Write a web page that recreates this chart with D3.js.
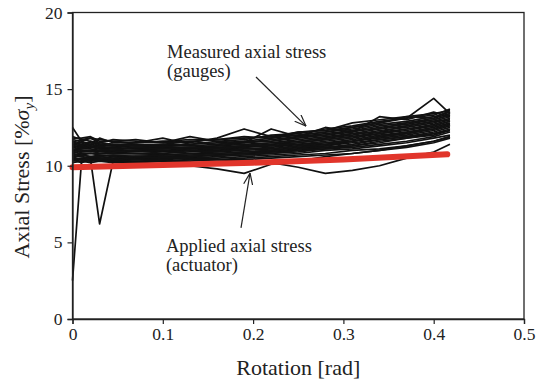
<!DOCTYPE html>
<html>
<head>
<meta charset="utf-8">
<script src="https://cdn.jsdelivr.net/npm/d3@7"></script>
<style>
body { margin: 0; background: #fff; }
text { font-family: "Liberation Serif", "Times New Roman", serif; fill: #222; }
</style>
</head>
<body>
<script>
// rotation samples shared by every gauge trace
var rotation = [0, 0.01, 0.02, 0.03, 0.045, 0.07, 0.10, 0.13, 0.16, 0.19, 0.22, 0.25, 0.28, 0.31, 0.34, 0.37, 0.40, 0.418];

// measured axial stress from the gauges [% sigma_y]
var gauges = [
	[10.2,10.3,10.2,10.3,10.2,10.2,10.3,10.3,10.4,10.4,10.5,10.6,10.7,10.8,11.0,11.2,11.5,11.8],
	[10.3,10.4,10.3,10.4,10.3,10.3,10.3,10.4,10.4,10.5,10.6,10.7,10.8,11.0,11.1,11.3,11.6,11.9],
	[10.4,10.5,10.4,10.4,10.4,10.4,10.4,10.5,10.5,10.6,10.7,10.8,11.0,11.1,11.3,11.5,11.8,12.0],
	[10.5,10.4,10.5,10.5,10.4,10.5,10.5,10.5,10.6,10.7,10.8,10.9,11.1,11.2,11.4,11.6,11.9,12.2],
	[10.6,10.6,10.5,10.6,10.5,10.5,10.6,10.6,10.7,10.8,10.9,11.0,11.2,11.3,11.5,11.8,12.1,12.3],
	[10.7,10.7,10.6,10.7,10.6,10.6,10.6,10.7,10.7,10.8,10.9,11.1,11.3,11.5,11.7,11.9,12.2,12.5],
	[10.8,10.7,10.8,10.7,10.7,10.7,10.7,10.8,10.8,10.9,11.0,11.2,11.3,11.6,11.8,12.0,12.3,12.6],
	[10.9,10.8,10.8,10.8,10.8,10.8,10.7,10.8,10.9,11.0,11.1,11.3,11.4,11.6,11.9,12.1,12.4,12.7],
	[11.0,10.9,10.9,10.9,10.9,10.8,10.8,10.9,11.0,11.1,11.2,11.4,11.5,11.7,12.0,12.2,12.5,12.8],
	[11.1,11.0,11.0,11.0,10.9,10.9,10.9,11.0,11.0,11.2,11.3,11.4,11.6,11.8,12.1,12.3,12.6,12.9],
	[11.2,11.1,11.1,11.0,11.0,11.0,11.0,11.0,11.1,11.2,11.4,11.5,11.7,11.9,12.2,12.4,12.7,13.0],
	[11.3,11.2,11.2,11.1,11.1,11.1,11.0,11.1,11.2,11.3,11.4,11.6,11.8,12.0,12.3,12.5,12.8,13.1],
	[11.4,11.3,11.3,11.2,11.2,11.1,11.1,11.2,11.3,11.4,11.5,11.7,11.9,12.1,12.4,12.6,12.9,13.2],
	[11.5,11.4,11.4,11.3,11.3,11.2,11.2,11.2,11.3,11.5,11.6,11.8,12.0,12.2,12.5,12.7,13.0,13.3],
	[11.6,11.5,11.5,11.4,11.3,11.3,11.3,11.3,11.4,11.5,11.7,11.9,12.1,12.3,12.6,12.8,13.1,13.4],
	[11.7,11.6,11.8,11.5,11.4,11.4,11.4,11.4,11.5,11.6,11.8,12.0,12.2,12.4,12.7,12.9,13.2,13.5],
	[11.8,11.8,11.9,11.6,11.6,11.7,11.5,11.9,11.6,11.7,12.0,12.1,12.4,12.6,12.9,13.1,13.3,13.7],
	[12.5,11.6,11.4,11.8,11.5,11.5,11.6,11.5,11.8,12.4,11.9,12.2,12.3,12.8,13.0,13.2,13.4,13.6],
	[11.2,11.7,11.6,11.4,11.3,11.5,11.8,11.4,11.6,11.5,12.4,11.9,12.5,12.2,13.2,13.0,13.5,13.2],
	[10.4,10.2,10.4,10.3,10.3,10.2,10.3,10.0,9.8,9.5,10.1,10.3,10.6,10.8,11.0,11.3,11.6,11.9],
	[10.5,10.4,10.3,10.4,10.3,10.4,10.3,10.4,10.4,10.3,10.2,9.9,9.5,9.7,10.0,10.5,10.9,11.4],
	[2.5,10.3,10.6,10.5,10.5,10.6,10.6,10.6,10.7,10.8,10.9,11.1,11.2,11.4,11.7,11.9,12.1,12.4],
	[10.8,10.6,10.4,6.2,10.3,10.6,10.7,10.7,10.8,10.9,11.0,11.2,11.4,11.6,11.9,12.1,12.4,12.7],
	[11.9,11.7,11.8,11.7,11.6,11.5,11.6,11.7,11.7,11.8,11.9,12.0,12.2,12.5,12.8,13.1,14.4,13.4],
	[11.0,11.3,11.2,11.3,11.1,11.2,11.3,11.1,11.2,11.3,11.5,11.6,11.8,12.1,12.2,12.6,12.9,13.0],
	[10.6,10.9,11.0,10.8,10.9,11.0,10.8,11.0,10.9,11.1,11.1,11.3,11.5,11.6,11.9,12.2,12.4,12.7],
	[10.9,11.1,11.3,11.1,11.0,11.2,11.1,11.2,11.1,11.3,11.3,11.5,11.7,11.9,12.1,12.4,12.6,12.9],
	[11.4,11.5,11.2,11.5,11.4,11.3,11.4,11.6,11.4,11.6,11.6,11.9,12.0,12.3,12.4,12.8,13.0,13.3],
	[10.5,10.7,10.6,10.6,10.7,10.6,10.5,10.6,10.7,10.7,10.8,11.0,11.1,11.3,11.6,11.8,12.0,12.3],
	[11.6,11.3,11.6,11.5,11.7,11.6,11.5,11.6,11.7,11.9,11.8,12.2,12.3,12.5,12.8,13.2,13.1,13.6]
];

// applied axial stress from the actuator
var appliedRotation = [0, 0.1, 0.2, 0.3, 0.415];
var appliedStress = [9.9, 10.05, 10.2, 10.4, 10.75];

// axis ticks
var xTicks = [0, 0.1, 0.2, 0.3, 0.4, 0.5];
var yTicks = [0, 5, 10, 15, 20];

var margin = {top: 12.5, right: 16, bottom: 63, left: 72.5};
var width = 540 - margin.left - margin.right;
var height = 382 - margin.top - margin.bottom;

var svg = d3.select("body").append("svg")
	.attr("width", 540)
	.attr("height", 382);

var g = svg.append("g")
	.attr("transform", "translate(" + margin.left + "," + margin.top + ")");

var x = d3.scaleLinear().domain([0, 0.5]).range([0, width]);
var y = d3.scaleLinear().domain([0, 20]).range([height, 0]);

var line = d3.line()
	.x(function (d) { return x(d[0]); })
	.y(function (d) { return y(d[1]); });

//tracce dei gauges
g.selectAll("path.gauge")
	.data(gauges)
	.enter()
	.append("path")
	.attr("class", "gauge")
	.attr("d", function (d) {
		return line(d.map(function (v, i) { return [rotation[i], v]; }));
	})
	.attr("fill", "none")
	.attr("stroke", "#111")
	.attr("stroke-width", 1.7)
	.attr("stroke-linejoin", "round");

//linea rossa dell'attuatore
g.append("path")
	.attr("d", line(appliedRotation.map(function (r, i) { return [r, appliedStress[i]]; })))
	.attr("fill", "none")
	.attr("stroke", "#e1352b")
	.attr("stroke-width", 6)
	.attr("stroke-linecap", "round");

//cornice
g.append("rect")
	.attr("width", width)
	.attr("height", height)
	.attr("fill", "none")
	.attr("stroke", "#222")
	.attr("stroke-width", 1.3);

//assi
var xAxis = g.append("g")
	.attr("transform", "translate(0," + height + ")")
	.call(d3.axisBottom(x).tickValues(xTicks).tickFormat(d3.format("")).tickSize(5).tickPadding(4));

var yAxis = g.append("g")
	.call(d3.axisLeft(y).tickValues(yTicks).tickSize(5).tickPadding(5));

[xAxis, yAxis].forEach(function (a) {
	a.select(".domain").attr("stroke", "#222").attr("stroke-width", 1.3);
	a.selectAll(".tick line").attr("stroke", "#222").attr("stroke-width", 1.2);
	a.selectAll("text")
		.attr("font-family", "Liberation Serif, serif")
		.attr("font-size", 17.5)
		.attr("fill", "#222");
});

//titoli degli assi
svg.append("text")
	.attr("x", margin.left + width / 2)
	.attr("y", 375)
	.attr("text-anchor", "middle")
	.attr("font-size", 22)
	.text("Rotation [rad]");

var yTitle = svg.append("text")
	.attr("transform", "translate(29,177) rotate(-90)")
	.attr("text-anchor", "middle")
	.attr("font-size", 22);
yTitle.append("tspan").text("Axial Stress [%");
yTitle.append("tspan").attr("font-style", "italic").text("σ");
yTitle.append("tspan").attr("font-style", "italic").attr("font-size", 15).attr("dy", 5).text("y");
yTitle.append("tspan").attr("dy", -5).text("]");

//annotazioni
var notes = [
	{lines: ["Measured axial stress", "(gauges)"], x: 0.1047, y: 17.03, from: [0.2032, 15.79], to: [0.2586, 12.59]},
	{lines: ["Applied axial stress", "(actuator)"], x: 0.1035, y: 4.37, from: [0.1866, 5.94], to: [0.1966, 9.52]}
];

svg.append("defs").append("marker")
	.attr("id", "head")
	.attr("markerUnits", "userSpaceOnUse")
	.attr("viewBox", "0 0 12 10")
	.attr("refX", 11.5)
	.attr("refY", 5)
	.attr("markerWidth", 12)
	.attr("markerHeight", 10)
	.attr("orient", "auto")
	.append("path")
	.attr("d", "M0,0.5 L11.5,5 L0,9.5")
	.attr("fill", "none")
	.attr("stroke", "#222")
	.attr("stroke-width", 1.2);

notes.forEach(function (n) {
	var t = g.append("text")
		.attr("x", x(n.x))
		.attr("y", y(n.y))
		.attr("font-size", 18.5);
	n.lines.forEach(function (l, i) {
		t.append("tspan")
			.attr("x", x(n.x))
			.attr("dy", i === 0 ? 0 : 19)
			.text(l);
	});
	g.append("line")
		.attr("x1", x(n.from[0]))
		.attr("y1", y(n.from[1]))
		.attr("x2", x(n.to[0]))
		.attr("y2", y(n.to[1]))
		.attr("stroke", "#222")
		.attr("stroke-width", 1.2)
		.attr("marker-end", "url(#head)");
});
</script>
</body>
</html>
